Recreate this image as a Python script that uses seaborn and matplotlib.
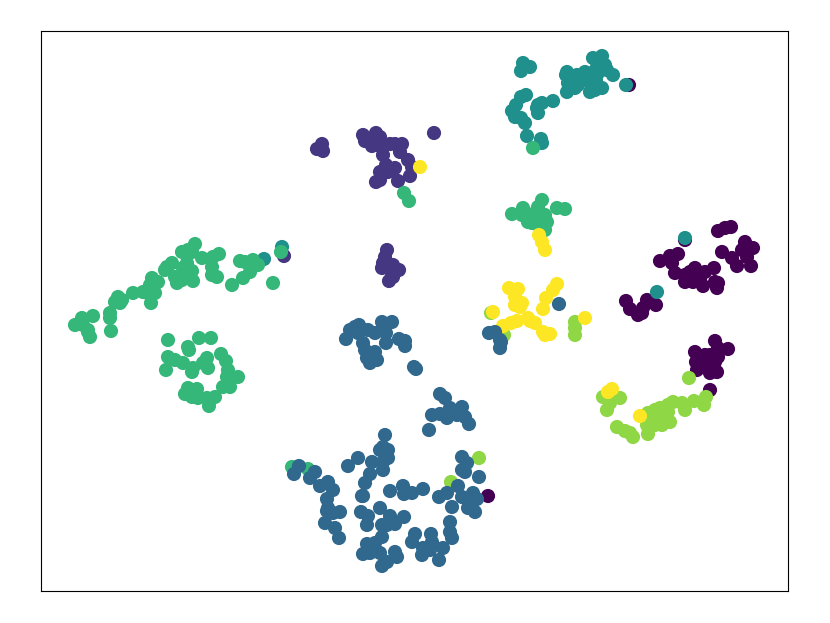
import pandas as pd
import matplotlib
matplotlib.use('Agg')
import matplotlib.pyplot as plt
import seaborn as sns

# values, one pair of lists per class
purple_x = [629, 718, 725, 731, 685, 722, 732, 737, 745, 742, 753, 747, 751, 660, 670, 678, 672, 675, 685, 695, 705, 714, 685, 693, 703, 715, 717, 718, 692, 690, 700, 626, 630, 638, 642, 647, 656, 643, 715, 728, 718, 695, 696, 705, 715, 717, 710, 697, 718, 710, 705, 710, 488]
purple_y = [85, 231, 228, 227, 240, 252, 258, 266, 242, 250, 248, 257, 266, 261, 256, 254, 263, 273, 275, 268, 272, 268, 282, 282, 286, 282, 288, 283, 277, 272, 280, 301, 309, 315, 313, 300, 305, 308, 341, 349, 348, 352, 362, 362, 362, 372, 373, 370, 357, 355, 355, 390, 496]

indigo_x = [322, 317, 323, 363, 365, 372, 376, 380, 375, 372, 378, 383, 390, 395, 402, 400, 408, 410, 412, 398, 386, 395, 388, 380, 380, 376, 434, 387, 385, 383, 382, 388, 393, 399, 392, 393, 389, 284]
indigo_y = [144, 149, 151, 135, 141, 146, 133, 137, 140, 142, 145, 155, 144, 144, 144, 152, 160, 176, 167, 181, 165, 168, 172, 172, 180, 182, 133, 250, 257, 263, 268, 267, 265, 270, 273, 277, 281, 256]

teal_x = [523, 521, 530, 525, 526, 521, 516, 512, 515, 521, 525, 538, 537, 538, 542, 553, 527, 541, 542, 567, 566, 577, 568, 567, 575, 578, 570, 593, 602, 605, 597, 592, 583, 590, 590, 595, 602, 613, 607, 598, 600, 596, 585, 626, 282, 264, 685, 657]
teal_y = [63, 71, 67, 66, 95, 97, 105, 111, 117, 118, 123, 105, 108, 113, 103, 101, 136, 139, 143, 72, 75, 75, 83, 92, 88, 85, 87, 58, 56, 65, 67, 73, 77, 82, 92, 90, 88, 75, 70, 73, 60, 80, 72, 85, 247, 259, 238, 292]

lime_x = [491, 575, 575, 575, 504, 689, 706, 704, 694, 685, 682, 673, 668, 670, 662, 658, 648, 647, 648, 653, 664, 660, 655, 668, 660, 655, 617, 625, 633, 630, 603, 607, 610, 620, 479, 451]
lime_y = [313, 322, 335, 328, 335, 378, 397, 405, 401, 410, 403, 402, 412, 422, 425, 418, 413, 425, 434, 418, 415, 408, 425, 405, 418, 410, 427, 431, 437, 433, 397, 410, 403, 398, 458, 482]

green_x = [533, 404, 409, 75, 82, 83, 93, 88, 90, 88, 110, 110, 111, 118, 115, 120, 122, 133, 143, 150, 152, 148, 155, 151, 158, 165, 167, 172, 177, 175, 182, 183, 187, 192, 193, 182, 188, 195, 192, 202, 212, 213, 219, 212, 217, 240, 245, 253, 258, 250, 243, 232, 252, 273, 281,
           168, 189, 188, 199, 211, 168, 166, 175, 183, 192, 193, 207, 203, 208, 221, 226, 228, 227, 238, 230, 223, 215, 209, 207, 198, 197, 188, 185, 192,
           512, 523, 522, 542, 538, 537, 532, 538, 545, 547, 557, 565, 530, 533, 545, 540, 528, 535, 543, 292, 308]
green_y = [148, 193, 201, 325, 318, 325, 316, 330, 337, 332, 313, 318, 331, 297, 302, 303, 300, 293, 292, 285, 278, 293, 293, 303, 282, 270, 267, 263, 283, 277, 280, 268, 263, 271, 281, 252, 250, 244, 252, 258, 267, 257, 254, 275, 277, 261, 262, 260, 265, 272, 278, 285, 267, 283, 252,
           340, 350, 347, 338, 338, 357, 370, 360, 363, 372, 368, 358, 363, 368, 354, 361, 370, 377, 377, 387, 387, 397, 406, 398, 398, 389, 388, 394, 397,
           214, 208, 215, 200, 207, 213, 223, 225, 230, 222, 208, 209, 215, 220, 215, 218, 222, 213, 228, 467, 469]

yellow_x = [420, 539, 542, 545, 509, 518, 515, 522, 515, 520, 557, 553, 546, 543, 493, 585, 503, 511, 517, 528, 530, 535, 543, 550, 545, 608, 612, 640]
yellow_y = [167, 235, 242, 250, 288, 289, 297, 303, 305, 307, 284, 290, 298, 309, 312, 318, 326, 323, 321, 318, 321, 323, 332, 334, 335, 392, 389, 416]

blue_x = [559, 489, 495, 500, 501, 500, 346, 350, 355, 359, 358, 368, 375, 363, 365, 375, 367, 370, 377, 382, 392, 386, 386, 399, 405, 405, 414, 416, 440, 445, 432, 440, 447, 450, 462, 457, 465, 469, 429,
          385, 380, 388, 383, 388, 383, 383, 358, 348, 372, 370, 365, 362, 363, 299, 294, 315, 310, 320, 328, 333, 327, 328, 327, 340, 333, 325, 335, 339,
          361, 368, 367, 380, 390, 387, 382, 395, 404, 382, 375, 367, 363, 370, 380, 387, 382, 395, 397, 390, 403, 404, 412, 423,
          462, 462, 467, 465, 479, 458, 447, 439, 462, 473, 477, 468, 475, 472, 452, 450, 450, 452, 443, 415, 412, 422, 430, 431, 432, 439, 423]
blue_y = [304, 333, 332, 340, 342, 348, 339, 330, 327, 325, 333, 330, 333, 343, 350, 352, 358, 363, 360, 322, 322, 333, 343, 339, 341, 346, 367, 369, 394, 398, 415, 414, 418, 408, 407, 415, 417, 424, 430,
          435, 450, 450, 447, 458, 470, 462, 458, 466, 462, 474, 483, 496, 496, 466, 474, 472, 478, 486, 482, 490, 499, 508, 511, 512, 513, 523, 528, 538,
          512, 516, 525, 508, 516, 525, 525, 524, 517, 537, 543, 544, 554, 553, 553, 562, 566, 552, 557, 491, 486, 494, 493, 489,
          457, 470, 463, 472, 477, 486, 493, 497, 497, 493, 499, 508, 512, 500, 507, 522, 532, 538, 548, 534, 542, 555, 550, 534, 542, 560, 548]

class_names = ['purple', 'indigo', 'teal', 'lime', 'green', 'yellow', 'blue']
class_colors = ['#440154', '#453781', '#20908c', '#8fd744', '#35b779', '#fde725', '#31688e']
class_xs = [purple_x, indigo_x, teal_x, lime_x, green_x, yellow_x, blue_x]
class_ys = [purple_y, indigo_y, teal_y, lime_y, green_y, yellow_y, blue_y]

frames = []
for name, xs, ys in zip(class_names, class_xs, class_ys):
    frames.append(pd.DataFrame({'x': xs, 'y': ys, 'label': name}))
data = pd.concat(frames, ignore_index=True)

fig, ax = plt.subplots(figsize=(8.3, 6.23), dpi=100)
fig.subplots_adjust(left=41 / 830, right=788 / 830, top=1 - 31 / 623, bottom=1 - 591 / 623)

sns.scatterplot(data=data, x='x', y='y', hue='label', hue_order=class_names,
                palette=class_colors, s=104, linewidth=0, alpha=1, legend=False, ax=ax)

ax.set_xlim(41, 788)
ax.set_ylim(591, 31)
ax.set_xticks([])
ax.set_yticks([])
ax.set_xlabel('')
ax.set_ylabel('')

plt.savefig('out.png', dpi=100)
